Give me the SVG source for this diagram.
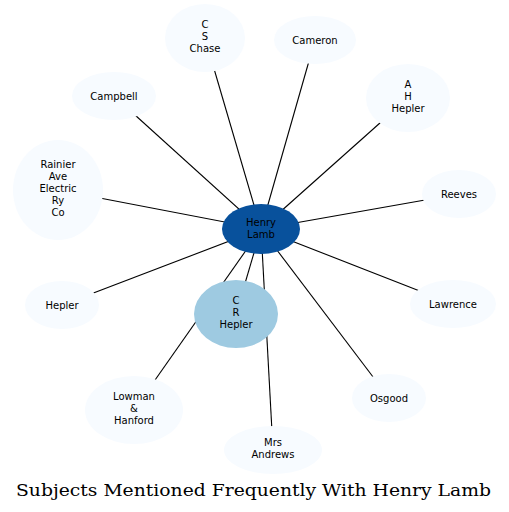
<svg xmlns="http://www.w3.org/2000/svg" width="509" height="512" viewBox="0 0 509 512">
<style>
.e{stroke:#000;stroke-width:1.1;fill:none}
.n{fill:#f7fbff}
.t{font-family:"DejaVu Sans",sans-serif;font-size:10px;fill:#000;text-anchor:middle}
.title{font-family:"DejaVu Serif",serif;font-size:17px;fill:#000}
</style>
<rect width="509" height="512" fill="#fff"/>
<g id="edges">
<line class="e" x1="261" y1="229" x2="205" y2="38"/>
<line class="e" x1="261" y1="229" x2="315" y2="40"/>
<line class="e" x1="261" y1="229" x2="408" y2="98"/>
<line class="e" x1="261" y1="229" x2="114" y2="96"/>
<line class="e" x1="261" y1="229" x2="58" y2="190"/>
<line class="e" x1="261" y1="229" x2="459" y2="194"/>
<line class="e" x1="261" y1="229" x2="62" y2="305"/>
<line class="e" x1="261" y1="229" x2="453" y2="304"/>
<line class="e" x1="261" y1="229" x2="236" y2="314"/>
<line class="e" x1="261" y1="229" x2="134" y2="410"/>
<line class="e" x1="261" y1="229" x2="389" y2="398"/>
<line class="e" x1="261" y1="229" x2="273" y2="450"/>
</g>
<g id="cschase"><ellipse class="n" cx="205" cy="38" rx="40" ry="34"/><text class="t" x="205" y="28">C</text><text class="t" x="205" y="40">S</text><text class="t" x="205" y="52">Chase</text></g>
<g id="cameron"><ellipse class="n" cx="315" cy="40" rx="41" ry="24"/><text class="t" x="315" y="44">Cameron</text></g>
<g id="ahhepler"><ellipse class="n" cx="408" cy="98" rx="42" ry="34"/><text class="t" x="408" y="88">A</text><text class="t" x="408" y="100">H</text><text class="t" x="408" y="112">Hepler</text></g>
<g id="campbell"><ellipse class="n" cx="114" cy="96" rx="42" ry="24"/><text class="t" x="114" y="100">Campbell</text></g>
<g id="rainier"><ellipse class="n" cx="58" cy="190" rx="45" ry="50"/><text class="t" x="58" y="168">Rainier</text><text class="t" x="58" y="180">Ave</text><text class="t" x="58" y="192">Electric</text><text class="t" x="58" y="204">Ry</text><text class="t" x="58" y="216">Co</text></g>
<g id="reeves"><ellipse class="n" cx="459" cy="194" rx="37" ry="24"/><text class="t" x="459" y="198">Reeves</text></g>
<g id="hepler"><ellipse class="n" cx="62" cy="305" rx="37" ry="24"/><text class="t" x="62" y="309">Hepler</text></g>
<g id="lawrence"><ellipse class="n" cx="453" cy="304" rx="43" ry="24"/><text class="t" x="453" y="308">Lawrence</text></g>
<g id="crhepler"><ellipse cx="236" cy="314" rx="42" ry="34" fill="#9ecae1"/><text class="t" x="236" y="304">C</text><text class="t" x="236" y="316">R</text><text class="t" x="236" y="328">Hepler</text></g>
<g id="lowman"><ellipse class="n" cx="134" cy="410" rx="49" ry="34"/><text class="t" x="134" y="400">Lowman</text><text class="t" x="134" y="412">&amp;</text><text class="t" x="134" y="424">Hanford</text></g>
<g id="osgood"><ellipse class="n" cx="389" cy="398" rx="37" ry="24"/><text class="t" x="389" y="402">Osgood</text></g>
<g id="mrsandrews"><ellipse class="n" cx="273" cy="450" rx="49" ry="24"/><text class="t" x="273" y="446">Mrs</text><text class="t" x="273" y="458">Andrews</text></g>
<g id="henrylamb"><ellipse cx="261" cy="229" rx="39" ry="25" fill="#08519c"/><text class="t" x="261" y="226">Henry</text><text class="t" x="261" y="238">Lamb</text></g>
<text class="title" x="16" y="496" textLength="475" lengthAdjust="spacingAndGlyphs">Subjects Mentioned Frequently With Henry Lamb</text>
</svg>
